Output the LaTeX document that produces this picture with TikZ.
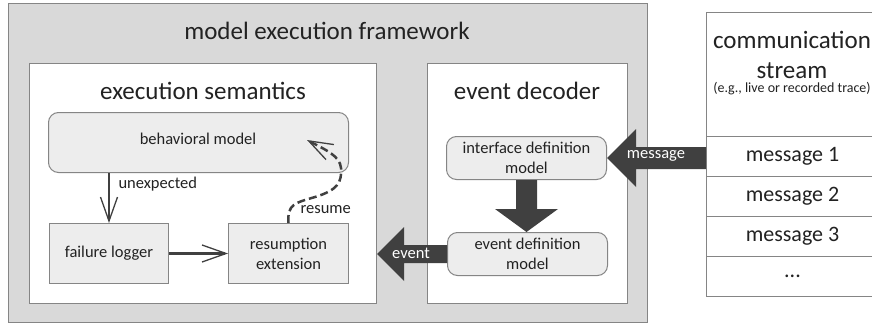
\documentclass[tikz,border=0pt]{standalone}
\usepackage{fontspec}
\setmainfont{Carlito}
\usetikzlibrary{arrows.meta,calc}
\definecolor{framefill}{HTML}{D9D9D9}
\definecolor{edge}{HTML}{858585}
\definecolor{boxfill}{HTML}{EDEDED}
\definecolor{ink}{HTML}{222222}
\definecolor{dark}{HTML}{404040}
\begin{document}
\begin{tikzpicture}[x=1pt,y=-1pt,
  every node/.style={text=ink, font=\fontsize{16.5}{20}\selectfont},
  region/.style={draw=edge, line width=1pt, anchor=north west, inner sep=0pt},
  panel/.style={region, fill=white},
  part/.style={region, fill=boxfill, align=center},
  roundpart/.style={part, rounded corners=10pt},
  row/.style={region, fill=white, minimum width=172pt, minimum height=40pt,
              font=\fontsize{22}{26}\selectfont},
  heading/.style={font=\fontsize{25}{30}\selectfont},
  conn/.style={draw=dark, line width=2.5pt,
               -{Straight Barb[length=24pt,width=17pt,line width=1.3pt]}},
  block/.style={fill=dark},
  blocklabel/.style={text=white}]
\useasboundingbox (0,0) rectangle (872,324);

% containers
\node[region, fill=framefill, minimum width=639pt, minimum height=319pt] (mef) at (8,3) {};
\node[heading] (meftitle) at (327,31) {model execution framework};
\node[panel, minimum width=347pt, minimum height=240pt] (es) at (29,63) {};
\node[heading] (estitle) at (203,91) {execution semantics};
\node[panel, minimum width=200pt, minimum height=240pt] (ed) at (427,63) {};
\node[heading] (edtitle) at (527,91) {event decoder};

% execution semantics parts
\node[roundpart, minimum width=300pt, minimum height=60pt] (bm) at (48,112) {};
\node (bmtext) at (198,139) {behavioral model};
\node[part, minimum width=119pt, minimum height=60pt] (fl) at (49,223) {failure logger};
\node[part, minimum width=120pt, minimum height=60pt] (re) at (228,223) {resumption\\extension};

% event decoder parts
\node[roundpart, minimum width=160pt, minimum height=43pt] (idm) at (446,136) {interface definition\\model};
\node[roundpart, minimum width=160pt, minimum height=43pt] (edm) at (447,232) {event definition\\model};

% communication stream
\node[region, fill=white, minimum width=172pt, minimum height=124pt] (cs) at (706,12) {};
\node[heading, align=center] (cstitle) at (792,55) {communication\\stream};
\node[font=\fontsize{14}{16}\selectfont] (csnote) at (792,89) {(e.g., live or recorded trace)};
\node[row] (m1) at (706,136) {message 1};
\node[row] (m2) at (706,176) {message 2};
\node[row] (m3) at (706,216) {message 3};
\node[row] (m4) at (706,256) {...};

% control flow inside the execution semantics
\draw[conn] (bm.south -| fl.north) -- (fl.north);
\node[anchor=west] (unexp) at (115,184) {unexpected};
\draw[conn] (fl.east) -- (re.west);
\coordinate (rt) at (307,140);
\draw[conn, dash pattern=on 8pt off 4pt]
  (re.north) .. controls (287,204) and (295,203) .. (315,197)
             .. controls (338,190) and (342,182) .. (341,168)
             .. controls (340,156) and (326,150) .. (rt);
\node[anchor=west] (resume) at (297,210) {resume};

% message flow: stream -> interface definition model
\coordinate (mt) at (idm.east);
\fill[block] (mt) -- ++(29,-29) -- ++(0,18) -- ($(mt -| m1.west)+(0,-11)$)
  -- ($(mt -| m1.west)+(0,11)$) -- ($(mt)+(29,11)$) -- ++(0,18) -- cycle;
\node[blocklabel] (msglabel) at (656,156) {message};

% interface definition model -> event definition model
\coordinate (dt) at (idm.south |- edm.north);
\fill[block] ($(idm.south)+(-10.5,0)$) -- ($(dt)+(-10.5,-23)$) -- ($(dt)+(-31.5,-23)$)
  -- (dt) -- ($(dt)+(31.5,-23)$) -- ($(dt)+(10.5,-23)$) -- ($(idm.south)+(10.5,0)$) -- cycle;

% event flow: event definition model -> execution semantics
\coordinate (et) at (es.east |- edm.west);
\fill[block] (et) -- ++(27,-27) -- ++(0,18) -- ($(edm.west)+(0,-9)$)
  -- ($(edm.west)+(0,9)$) -- ($(et)+(27,9)$) -- ++(0,18) -- cycle;
\node[blocklabel] (evlabel) at (411,253) {event};
\end{tikzpicture}
\end{document}
